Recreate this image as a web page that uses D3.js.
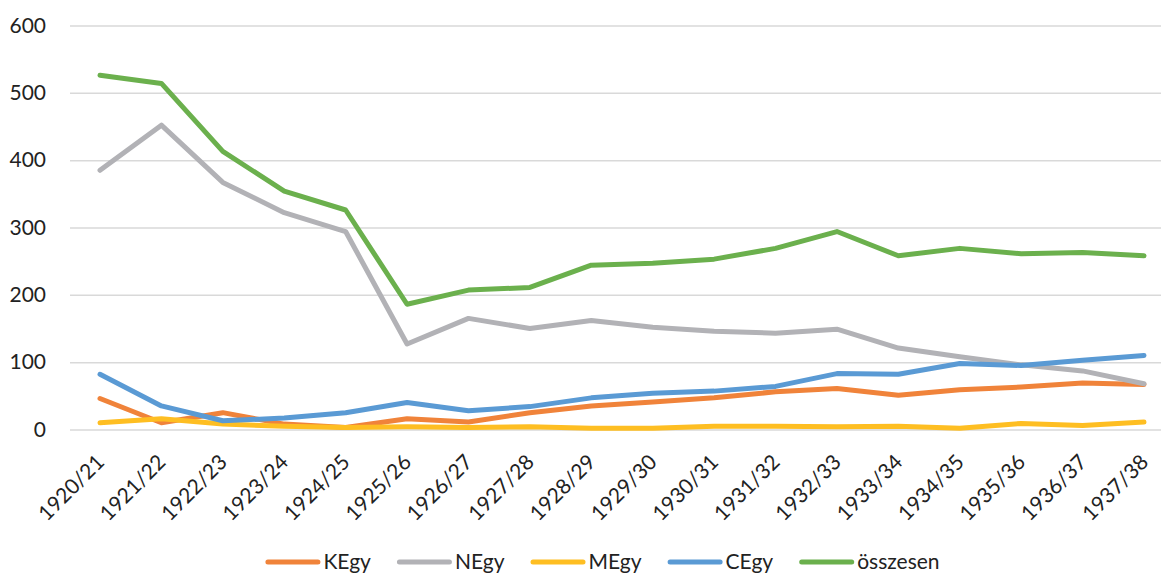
<!DOCTYPE html>
<html><head><meta charset="utf-8">
<script src="https://cdn.jsdelivr.net/npm/d3@7"></script>
<style>body{margin:0;background:#fff;overflow:hidden}svg{display:block}text{font-family:Lato,"Open Sans",sans-serif;fill:#222}</style>
</head><body><svg id="c" width="1161" height="573"></svg>
<script>
const categories = ["1920/21","1921/22","1922/23","1923/24","1924/25","1925/26","1926/27","1927/28","1928/29","1929/30","1930/31","1931/32","1932/33","1933/34","1934/35","1935/36","1936/37","1937/38"];
const KEgy = [46,10,25,8,3,16,11,25,35,41,47,56,61,51,59,63,69,67];
const NEgy = [385,452,367,322,294,127,165,150,162,152,146,143,149,121,108,96,87,68];
const MEgy = [10,16,8,5,3,4,3,4,2,2,5,5,4,5,2,9,6,11];
const CEgy = [82,35,13,17,25,40,28,34,47,54,57,64,83,82,98,95,103,110];
const osszesen = [526,514,413,354,326,186,207,211,244,247,253,269,294,258,269,261,263,258];
const yTicks = [0,100,200,300,400,500,600];
const seriesNames = ["KEgy","NEgy","MEgy","CEgy","összesen"];
const seriesColors = ["#F0833A","#B2B2B6","#FEBE22","#5A9AD4","#6BB04D"];
const seriesData = [KEgy,NEgy,MEgy,CEgy,osszesen];

(function(){
const svg = d3.select("#c");
const gl = 70, gr = 1161, pt = 25.5, pb = 429.5;
const x = d3.scalePoint().domain(categories).range([100, 1144]).padding(0);
const y = d3.scaleLinear().domain([0,600]).range([pb, pt]);
const FS = "21px";

const yAxis = svg.append("g").attr("transform", `translate(${gl},0)`)
  .call(d3.axisLeft(y).tickValues(yTicks).tickSize(-(gr-gl)).tickPadding(24));
yAxis.select(".domain").remove();
yAxis.selectAll("line").attr("stroke","#D9D9D9").attr("stroke-width",1.5);
yAxis.selectAll("text").style("font-size",FS).style("font-family","Lato").attr("fill","#222");

const xAxis = svg.append("g").attr("transform", `translate(0,${pb})`)
  .call(d3.axisBottom(x).tickSize(0).tickPadding(0));
xAxis.select(".domain").remove();
xAxis.selectAll("text").style("font-size",FS).style("font-family","Lato").attr("fill","#222")
  .attr("text-anchor","end").attr("dy","0").attr("y",0)
  .attr("transform","translate(5,34) rotate(-45)");

const line = d3.line().x((d,i)=>x(categories[i])).y(d=>y(d));
seriesData.forEach((s,k)=>{
  svg.append("path").datum(s).attr("d",line).attr("fill","none")
    .attr("stroke",seriesColors[k]).attr("stroke-width",5)
    .attr("stroke-linejoin","round").attr("stroke-linecap","round");
});

const lg = svg.append("g");
let cx = 0;
seriesNames.forEach((n,k)=>{
  const g = lg.append("g").attr("transform",`translate(${cx},0)`);
  g.append("line").attr("x1",2.5).attr("x2",52.5).attr("y1",0).attr("y2",0)
    .attr("stroke",seriesColors[k]).attr("stroke-width",5).attr("stroke-linecap","round");
  const t = g.append("text").attr("x",58).attr("y",7)
    .style("font-size",FS).text(n);
  const w = t.node().getComputedTextLength();
  cx += 58 + w + 26;
});
const total = cx - 26;
lg.attr("transform",`translate(${602.5 - total/2},562)`);
})();
</script></body></html>
